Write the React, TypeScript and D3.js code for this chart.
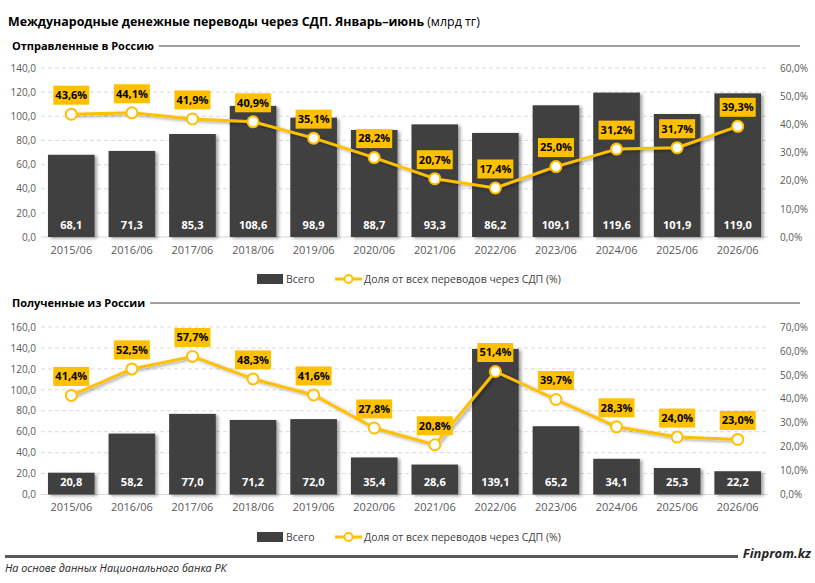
import React, { useEffect, useRef } from 'react';
import * as d3 from 'd3';

const categories = [
  '2015/06', '2016/06', '2017/06', '2018/06', '2019/06', '2020/06',
  '2021/06', '2022/06', '2023/06', '2024/06', '2025/06', '2026/06',
];

// Отправленные в Россию
const sentTotal = [68.1, 71.3, 85.3, 108.6, 98.9, 88.7, 93.3, 86.2, 109.1, 119.6, 101.9, 119.0];
const sentShare = [43.6, 44.1, 41.9, 40.9, 35.1, 28.2, 20.7, 17.4, 25.0, 31.2, 31.7, 39.3];
const sentLeftTicks = [0, 20, 40, 60, 80, 100, 120, 140];
const sentRightTicks = [0, 10, 20, 30, 40, 50, 60];

// Полученные из России
const receivedTotal = [20.8, 58.2, 77.0, 71.2, 72.0, 35.4, 28.6, 139.1, 65.2, 34.1, 25.3, 22.2];
const receivedShare = [41.4, 52.5, 57.7, 48.3, 41.6, 27.8, 20.8, 51.4, 39.7, 28.3, 24.0, 23.0];
const receivedLeftTicks = [0, 20, 40, 60, 80, 100, 120, 140, 160];
const receivedRightTicks = [0, 10, 20, 30, 40, 50, 60, 70];

const YELLOW = '#FFC000';
const BAR = '#404040';
const FONT = "'Open Sans', 'Noto Sans', sans-serif";

const fmt = (v: number) => v.toFixed(1).replace('.', ',');

type Panel = {
  title: string;
  titleY: number;
  top: number;
  bottom: number;
  total: number[];
  share: number[];
  leftTicks: number[];
  rightTicks: number[];
  axisY: number;
  legendY: number;
};

const App: React.FC = () => {
  const ref = useRef<SVGSVGElement | null>(null);

  useEffect(() => {
    if (!ref.current) return;
    const svg = d3.select(ref.current);
    svg.selectAll('*').remove();

    const defs = svg.append('defs');
    const f = defs.append('filter').attr('id', 'shadow')
      .attr('x', '-20%').attr('y', '-20%').attr('width', '150%').attr('height', '150%');
    f.append('feDropShadow').attr('dx', 2.5).attr('dy', 1.5).attr('stdDeviation', 1.5)
      .attr('flood-color', '#000').attr('flood-opacity', 0.35);

    svg.append('rect').attr('width', 815).attr('height', 583).attr('fill', '#fff');

    // main title
    const title = svg.append('text').attr('x', 8).attr('y', 26)
      .attr('font-family', FONT).attr('font-size', 12.4).attr('fill', '#000');
    title.append('tspan').attr('font-weight', 'bold')
      .text('Международные денежные переводы через СДП. Январь–июнь');
    title.append('tspan').attr('font-weight', 'normal').text(' (млрд тг)');

    const x = d3.scaleBand<string>().domain(categories).range([41, 768]).paddingInner(0.23).paddingOuter(0.115);

    const drawPanel = (p: Panel) => {
      const g = svg.append('g');
      const head = g.append('text').attr('x', 12).attr('y', p.titleY + 4)
        .attr('font-family', FONT).attr('font-size', 11).attr('font-weight', 'bold')
        .attr('fill', '#000').text(p.title);
      const hw = (head.node() as SVGTextElement).getComputedTextLength();
      g.append('line').attr('x1', 12 + hw + 5).attr('x2', 800)
        .attr('y1', p.titleY).attr('y2', p.titleY).attr('stroke', '#404040').attr('stroke-width', 1.2);

      const yL = d3.scaleLinear().domain([0, p.leftTicks[p.leftTicks.length - 1]]).range([p.bottom, p.top]);
      const yR = d3.scaleLinear().domain([0, p.rightTicks[p.rightTicks.length - 1]]).range([p.bottom, p.top]);

      // gridlines
      g.append('g').selectAll('line').data(p.leftTicks.slice(1)).enter().append('line')
        .attr('x1', 41).attr('x2', 768)
        .attr('y1', d => yL(d)).attr('y2', d => yL(d))
        .attr('stroke', '#d9d9d9').attr('stroke-dasharray', '4,3');
      g.append('line').attr('x1', 41).attr('x2', 768)
        .attr('y1', p.bottom).attr('y2', p.bottom).attr('stroke', '#d9d9d9');

      // left axis
      const left = g.append('g').attr('transform', `translate(36,0)`)
        .call(d3.axisLeft(yL).tickValues(p.leftTicks).tickFormat(d => fmt(+d)).tickSize(0).tickPadding(0));
      left.select('.domain').remove();
      left.selectAll('text').attr('font-family', FONT).attr('font-size', 10).attr('fill', '#595959');

      // right axis
      const right = g.append('g').attr('transform', `translate(780,0)`)
        .call(d3.axisRight(yR).tickValues(p.rightTicks).tickFormat(d => fmt(+d) + '%').tickSize(0).tickPadding(0));
      right.select('.domain').remove();
      right.selectAll('text').attr('font-family', FONT).attr('font-size', 10).attr('fill', '#595959');

      // x axis
      const bottomAxis = g.append('g').attr('transform', `translate(0,${p.axisY})`)
        .call(d3.axisBottom(x).tickSize(0).tickPadding(0));
      bottomAxis.select('.domain').remove();
      bottomAxis.selectAll('text').attr('font-family', FONT).attr('font-size', 11).attr('fill', '#595959');

      // bars
      g.append('g').selectAll('rect').data(p.total).enter().append('rect')
        .attr('x', (_, i) => x(categories[i])!)
        .attr('y', d => yL(d))
        .attr('width', x.bandwidth())
        .attr('height', d => p.bottom - yL(d))
        .attr('fill', BAR)
        .attr('filter', 'url(#shadow)');

      g.append('g').selectAll('text').data(p.total).enter().append('text')
        .attr('x', (_, i) => x(categories[i])! + x.bandwidth() / 2)
        .attr('y', p.bottom - 12)
        .attr('dy', '0.35em')
        .attr('text-anchor', 'middle')
        .attr('font-family', FONT).attr('font-size', 11).attr('font-weight', 'bold')
        .attr('fill', '#fff')
        .text(d => fmt(d));

      // share line
      const cx = (i: number) => x(categories[i])! + x.bandwidth() / 2;
      const line = d3.line<number>().x((_, i) => cx(i)).y(d => yR(d));
      g.append('path').datum(p.share).attr('d', line)
        .attr('fill', 'none').attr('stroke', YELLOW).attr('stroke-width', 3)
        .attr('stroke-linejoin', 'round')
        .attr('filter', 'url(#shadow)');
      g.append('g').selectAll('circle').data(p.share).enter().append('circle')
        .attr('cx', (_, i) => cx(i)).attr('cy', d => yR(d)).attr('r', 5.5)
        .attr('fill', '#fff').attr('stroke', YELLOW).attr('stroke-width', 2);

      // share labels
      const lab = g.append('g').selectAll('g').data(p.share).enter().append('g')
        .attr('transform', (d, i) => `translate(${cx(i)},${yR(d) - 19})`);
      lab.append('rect').attr('x', -18).attr('y', -9.5).attr('width', 36).attr('height', 19).attr('fill', YELLOW);
      lab.append('text').attr('text-anchor', 'middle').attr('dy', '0.35em')
        .attr('font-family', FONT).attr('font-size', 11).attr('font-weight', 'bold').attr('fill', '#000')
        .text(d => fmt(d) + '%');

      // legend
      const lg = g.append('g').attr('transform', `translate(0,${p.legendY})`);
      lg.append('rect').attr('x', 257).attr('y', -5).attr('width', 26).attr('height', 10).attr('fill', BAR);
      lg.append('text').attr('x', 286).attr('dy', '0.35em').attr('font-family', FONT).attr('font-size', 10.5)
        .attr('fill', '#404040').text('Всего');
      lg.append('line').attr('x1', 335).attr('x2', 362).attr('stroke', YELLOW).attr('stroke-width', 3);
      lg.append('circle').attr('cx', 348.5).attr('r', 4).attr('fill', '#fff').attr('stroke', YELLOW).attr('stroke-width', 2);
      lg.append('text').attr('x', 364).attr('dy', '0.35em').attr('font-family', FONT).attr('font-size', 10.5)
        .attr('fill', '#404040').text('Доля от всех переводов через СДП (%)');
    };

    drawPanel({
      title: 'Отправленные в Россию', titleY: 46, top: 68, bottom: 237,
      total: sentTotal, share: sentShare, leftTicks: sentLeftTicks, rightTicks: sentRightTicks,
      axisY: 246, legendY: 279,
    });
    drawPanel({
      title: 'Полученные из России', titleY: 303, top: 327, bottom: 494.5,
      total: receivedTotal, share: receivedShare, leftTicks: receivedLeftTicks, rightTicks: receivedRightTicks,
      axisY: 503, legendY: 537,
    });

    // footer
    svg.append('line').attr('x1', 5).attr('x2', 738).attr('y1', 556.5).attr('y2', 556.5)
      .attr('stroke', '#595959').attr('stroke-width', 3);
    svg.append('text').attr('x', 811).attr('y', 558).attr('text-anchor', 'end')
      .attr('font-family', FONT).attr('font-size', 13).attr('font-weight', 'bold').attr('font-style', 'italic')
      .attr('fill', '#262626').text('Finprom.kz');
    svg.append('text').attr('x', 5).attr('y', 572)
      .attr('font-family', FONT).attr('font-size', 10.8).attr('font-style', 'italic')
      .attr('fill', '#262626').text('На основе данных Национального банка РК');
  }, []);

  return (
    <svg ref={ref} width={815} height={583}
      style={{ position: 'absolute', left: 0, top: 0, display: 'block' }} />
  );
};

export default App;
